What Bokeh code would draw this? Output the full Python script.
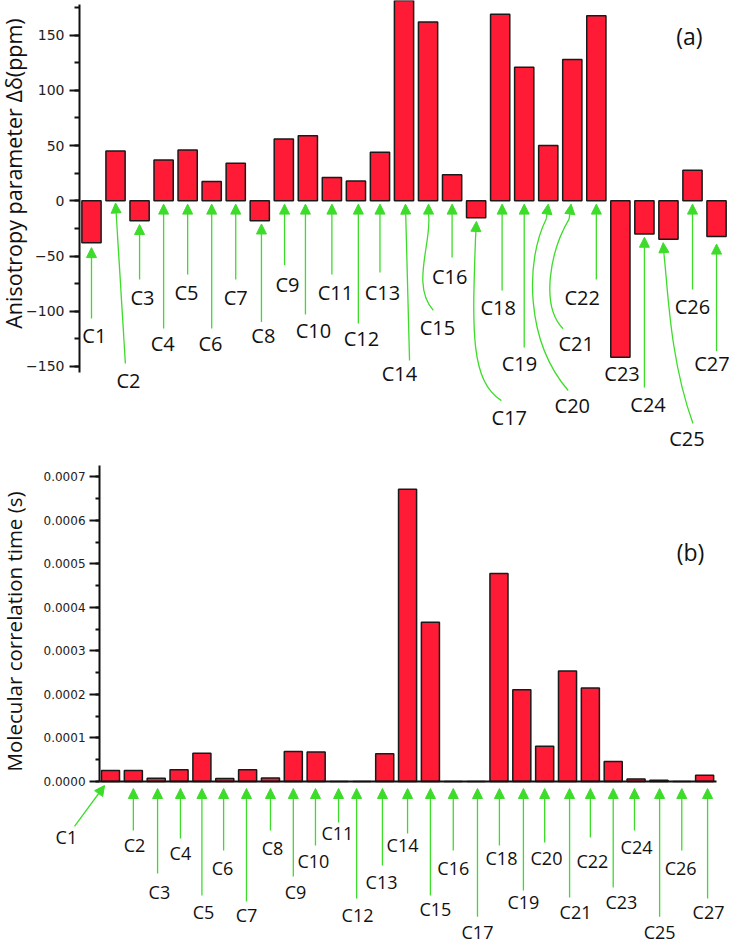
import math
from bokeh.plotting import figure
from bokeh.models import (Range1d, Arrow, NormalHead, Label, FixedTicker,
                          PrintfTickFormatter, ColumnDataSource, LinearAxis)
from bokeh.layouts import column
from bokeh.embed import file_html
from bokeh.resources import INLINE
from bokeh.core.properties import value

# ---------------- data ----------------
carbons = [f"C{i}" for i in range(1, 28)]
idx = list(range(1, 28))

# (a) anisotropy parameter (ppm)
anisotropy = [-38, 45, -18, 37, 46, 17.5, 34, -18, 56, 59, 21, 18, 44, 185,
              162, 23.5, -15.4, 169, 121, 50, 128, 167.5, -141.8, -30, -34.8,
              27.7, -32.3]

# (b) molecular correlation time (s)
corr_time = [2.5e-5, 2.5e-5, 7.5e-6, 2.7e-5, 6.5e-5, 7e-6, 2.7e-5, 8e-6,
             6.9e-5, 6.8e-5, 0, 0, 6.4e-5, 6.72e-4, 3.66e-4, 0, 0, 4.78e-4,
             2.11e-4, 8.1e-5, 2.54e-4, 2.15e-4, 4.6e-5, 6e-6, 3e-6, 0, 1.45e-5]

a_ticks = [-150, -100, -50, 0, 50, 100, 150]
b_ticks = [0, 1e-4, 2e-4, 3e-4, 4e-4, 5e-4, 6e-4, 7e-4]

# ---------------- annotation layout ----------------
# panel (a): label offset from bar (x, category units) and label y (ppm)
a_lab_dx = [0.12, 0.54, 0.12, -0.04, -0.05, -0.05, 0, 0.15, 0.15, 0.23, 0.15,
            0.23, 0.1, -0.19, 0.39, -0.1, 1.38, -0.08, -0.2, 1.0, 0.16, -0.59,
            0.07, 0.15, 0.77, 0, -0.19]
a_lab_y = [-121.8, -162.9, -87.6, -129.4, -82.9, -129.4, -87.6, -121.8, -75.5,
           -117.5, -83.1, -124.8, -83.1, -156.6, -115.2, -68.8, -196.3, -96.7,
           -147.4, -185.4, -129.4, -87.6, -156.6, -184.5, -215.5, -95.8, -147.4]
# straight arrows / arrow heads: (bar, dx0, y0, dx1, y1)
a_arrows = [(1, 0, -106.6, 0, -42.4), (2, 0.41, -147.4, 0.0, -2.0),
            (3, 0, -71.3, 0, -21.5), (4, 0, -115.7, 0, -3), (5, 0, -66.8, 0, -3),
            (6, 0, -115.7, 0, -3), (7, 0, -71.3, 0, -3), (8, 0.07, -109.7, 0.07, -21),
            (9, 0.03, -58.3, 0.03, -3), (10, -0.1, -102.9, -0.1, -3),
            (11, 0, -66.8, 0, -3), (12, 0.1, -111.1, 0.1, -3), (13, 0, -65, 0, -3),
            (14, 0.23, -144.6, 0.06, -3), (15, 0.02, -12.4, 0.02, -3),
            (16, 0, -51.4, 0, -3), (17, -0.03, -36.5, 0.01, -18.7),
            (18, 0.08, -81.2, 0.08, -3), (19, 0, -132.9, 0, -3),
            (20, -0.08, -16.2, 0, -3), (21, -0.13, -16.3, -0.05, -3),
            (22, 0, -71.3, 0, -3), (24, 0, -169.1, 0, -33),
            (25, -0.18, -49.7, -0.22, -37.9), (26, 0, -80.3, 0, -3),
            (27, 0, -136.2, 0, -39.2)]
# curved shafts: (bar, p0, p1, p2, p3) each as (dx, y)
a_curves = [(15, (0.22, -99.2), (-0.73, -76.7), (0.18, -36.0), (0.02, -12.4)),
            (17, (1.05, -181.0), (-0.24, -162.8), (-0.16, -117.5), (-0.03, -36.5)),
            (20, (0.83, -171.8), (-0.96, -126.6), (-0.96, -54.2), (-0.08, -16.2)),
            (21, (-0.38, -115.9), (-1.34, -95.1), (-0.92, -45.3), (-0.13, -16.3)),
            (25, (1.02, -201.7), (0.07, -144.7), (-0.02, -81.3), (-0.18, -49.7))]

# panel (b): label offsets (units of 1e-4 s)
b_lab_dx = [-1.93, 0.05, 0.14, 0.06, 0.07, -0.1, -0.05, 0.09, 0.1, -0.12, -0.07,
            -0.19, -0.14, -0.22, 0.22, 0, 0.06, 0.11, 0.07, 0.08, 0.35, 0.09,
            0.36, 0.02, 0.03, -0.05, 0.17]
b_lab_y = [-1.287, -1.471, -2.55, -1.655, -3.01, -1.977, -3.08, -1.54, -2.55,
           -1.839, -1.195, -3.08, -2.299, -1.471, -2.92, -1.977, -3.45, -1.77,
           -2.78, -1.77, -2.99, -1.839, -2.78, -1.517, -3.45, -1.977, -3.01]
b_arr_dx = [-1.575, 0, 0.06, 0.06, 0, -0.05, -0.05, 0, 0, -0.03, -0.02, -0.23,
            -0.1, 0, 0, 0, 0.06, 0.02, 0.07, 0, 0.09, 0, 0, -0.07, 0.03, 0, 0.13]
b_arr_y = [-1.034, -1.126, -2.115, -1.31, -2.62, -1.586, -2.759, -1.126, -2.184,
           -1.471, -0.943, -2.69, -1.931, -1.195, -2.62, -1.586, -3.11, -1.471,
           -2.506, -1.402, -2.667, -1.287, -2.437, -1.126, -3.11, -1.586, -2.69]
b_tip_dx = [-0.26] + b_arr_dx[1:]
b_tip_y = [-0.092] + [-0.161] * 26

RED = "#ff1a35"
GREEN = "#3ddc2a"
EDGE = "#1a1a1a"
FONT = "Open Sans"
TICK_FONT = "DejaVu Sans"


def make_fig(height, xr, yr, axis_x):
    p = figure(width=732, height=height, x_range=xr, y_range=yr,
               output_backend="svg", toolbar_location=None,
               x_axis_location=None, y_axis_location=None,
               min_border=0)
    p.grid.visible = False
    p.outline_line_color = None
    ax = LinearAxis(fixed_location=axis_x)
    ax.axis_line_width = 2
    ax.axis_line_color = "#111111"
    ax.major_tick_in = 0
    ax.minor_tick_in = 0
    ax.major_tick_line_width = 2
    ax.minor_tick_line_width = 2
    ax.major_tick_line_color = "#111111"
    ax.minor_tick_line_color = "#111111"
    ax.major_label_text_font = TICK_FONT
    ax.major_label_text_color = "#222222"
    p.add_layout(ax, "left")
    return p, ax


# ---------------- panel (a) ----------------
pa, axa = make_fig(460, Range1d(-2.785, 27.664), Range1d(-235.2, 181.4), 0.5008)
axa.bounds = (-155.6, 178)
axa.ticker = FixedTicker(ticks=a_ticks, minor_ticks=list(range(-150, 176, 25)))
axa.major_tick_out = 10
axa.minor_tick_out = 5
axa.major_label_text_font_size = "14px"
axa.major_label_standoff = 5

pa.vbar(x=idx, top=anisotropy, bottom=0, width=0.8, fill_color=RED,
        line_color=EDGE, line_width=1.5)

pa.bezier(x0=[c[0] + c[1][0] for c in a_curves], y0=[c[1][1] for c in a_curves],
          x1=[c[0] + c[4][0] for c in a_curves], y1=[c[4][1] for c in a_curves],
          cx0=[c[0] + c[2][0] for c in a_curves], cy0=[c[2][1] for c in a_curves],
          cx1=[c[0] + c[3][0] for c in a_curves], cy1=[c[3][1] for c in a_curves],
          line_color=GREEN, line_width=1.3)
srca = ColumnDataSource(dict(
    x0=[a[0] + a[1] for a in a_arrows], y0=[a[2] for a in a_arrows],
    x1=[a[0] + a[3] for a in a_arrows], y1=[a[4] for a in a_arrows]))
pa.add_layout(Arrow(end=NormalHead(size=10, fill_color=GREEN, line_color=GREEN,
                                   line_width=1),
                    source=srca, x_start="x0", y_start="y0", x_end="x1",
                    y_end="y1", line_color=GREEN, line_width=1.3))
pa.text(x=[i + d for i, d in zip(idx, a_lab_dx)], y=a_lab_y, text=carbons,
        text_font=value(FONT), text_font_size="20px", text_align="center",
        text_baseline="middle", text_color="#111111")
pa.text(x=[-2.244], y=[24.7], text=["Anisotropy parameter Δδ(ppm)"],
        angle=math.pi / 2, text_font=value(FONT), text_font_size="21.5px",
        text_align="center", text_baseline="middle", text_color="#111111")
pa.add_layout(Label(x=25.87, y=148.8, text="(a)", text_font=FONT,
                    text_font_size="23px", text_align="center",
                    text_baseline="middle", text_color="#111111"))

# ---------------- panel (b) ----------------
pb, axb = make_fig(484, Range1d(-3.814, 28.22), Range1d(-3.747e-4, 7.379e-4), 0.52)
axb.bounds = (0, 7.26e-4)
axb.ticker = FixedTicker(ticks=b_ticks,
                         minor_ticks=[k * 5e-5 for k in range(0, 15)])
axb.formatter = PrintfTickFormatter(format="%.4f")
axb.major_tick_out = 10
axb.minor_tick_out = 4
axb.major_label_text_font_size = "12px"
axb.major_label_standoff = 4

xax = LinearAxis(fixed_location=0, bounds=(0.52, 27.52),
                 ticker=FixedTicker(ticks=[]), major_tick_out=0,
                 minor_tick_out=0, major_label_text_font_size="0px",
                 axis_line_width=2, axis_line_color="#111111")
pb.add_layout(xax, "below")

pb.vbar(x=idx, top=corr_time, bottom=0, width=0.79, fill_color=RED,
        line_color=EDGE, line_width=1.5)
srcb = ColumnDataSource(dict(
    x0=[i + d for i, d in zip(idx, b_arr_dx)], y0=[v * 1e-4 for v in b_arr_y],
    x1=[i + d for i, d in zip(idx, b_tip_dx)], y1=[v * 1e-4 for v in b_tip_y]))
pb.add_layout(Arrow(end=NormalHead(size=10, fill_color=GREEN, line_color=GREEN,
                                   line_width=1),
                    source=srcb, x_start="x0", y_start="y0", x_end="x1",
                    y_end="y1", line_color=GREEN, line_width=1.3))
pb.text(x=[i + d for i, d in zip(idx, b_lab_dx)], y=[v * 1e-4 for v in b_lab_y],
        text=carbons, text_font=value(FONT), text_font_size="18px",
        text_align="center", text_baseline="middle", text_color="#111111")
pb.text(x=[-3.245], y=[3.45e-4], text=["Molecular correlation time (s)"],
        angle=math.pi / 2, text_font=value(FONT), text_font_size="20.5px",
        text_align="center", text_baseline="middle", text_color="#111111")
pb.add_layout(Label(x=26.38, y=5.287e-4, text="(b)", text_font=FONT,
                    text_font_size="23px", text_align="center",
                    text_baseline="middle", text_color="#111111"))

layout = column(pa, pb, spacing=0)
open("out.html", "w").write(file_html(layout, INLINE))
